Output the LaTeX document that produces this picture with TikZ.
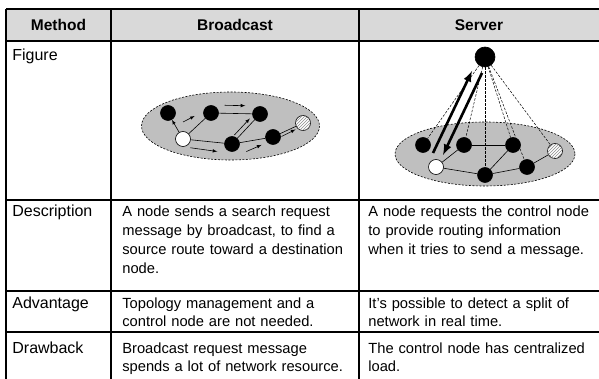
\documentclass[tikz,border=0pt]{standalone}
\usepackage{fontspec}
\setmainfont{Liberation Sans}
\usetikzlibrary{calc,patterns}
\tikzset{every picture/.style={line width=0.75pt}}

\begin{document}
\begin{tikzpicture}[x=1pt,y=1pt,yscale=-1,
    rule/.style={line width=1.2pt},
    head/.style={inner sep=0pt,font=\fontsize{15.5}{18}\selectfont\bfseries},
    lbl/.style={anchor=base west,inner sep=0pt,font=\fontsize{16}{19}\selectfont},
    txt/.style={anchor=base west,inner sep=0pt,text width=232pt,align=left,font=\fontsize{14.7}{18.8}\selectfont},
    area/.style={draw,dash pattern=on 2pt off 1.5pt,fill=black!25,line width=0.6pt},
    net/.style={circle,draw,fill=black,inner sep=0pt,minimum size=15pt,line width=0.6pt},
    src/.style={net,fill=white},
    dst/.style={net,fill=white,postaction={pattern=north east lines,pattern color=black!45}},
    link/.style={line width=0.6pt},
    msg/.style={line width=0.6pt,-latex},
    ctrl/.style={dash pattern=on 2.5pt off 1.5pt,line width=0.5pt},
    req/.style={line width=2.6pt,-latex}]
    \useasboundingbox (0,0) rectangle (599,379);
    % table
    \fill[black!15] (6,9) rectangle (599,41);
    \draw[rule] (6,9) -- (599,9);
    \draw[rule] (6,41) -- (599,41);
    \draw[rule] (6,200) -- (599,200);
    \draw[rule] (6,291) -- (599,291);
    \draw[rule] (6,332) -- (599,332);
    \draw[rule] (6,9) -- (6,379);
    \draw[rule] (111,9) -- (111,379);
    \draw[rule] (359,9) -- (359,379);
    \node[head] (hMethod) at (58.5,25) {Method};
    \node[head] (hBroad) at (235,25) {Broadcast};
    \node[head] (hServer) at (479,25) {Server};
    \node[lbl] (lFig) at (12,61) {Figure};
    \node[lbl] (lDesc) at (12,217) {Description};
    \node[lbl] (lAdv) at (12,308) {Advantage};
    \node[lbl] (lDraw) at (12,353) {Drawback};
    \node[txt] (bDesc) at (122,217) {A node sends a search request\\message by broadcast, to find a\\source route toward a destination\\node.};
    \node[txt] (sDesc) at (368,217) {A node requests the control node\\to provide routing information\\when it tries to send a message.};
    \node[txt] (bAdv) at (122,308) {Topology management and a\\control node are not needed.};
    \node[txt] (sAdv) at (368,308) {It's possible to detect a split of\\network in real time.};
    \node[txt] (bDraw) at (122,353) {Broadcast request message\\spends a lot of network resource.};
    \node[txt] (sDraw) at (368,353) {The control node has centralized\\load.};
    % broadcast
    \draw[area] (230.5,126) ellipse [x radius=89, y radius=34];
    \node[net] (bA) at (168,113) {};
    \node[net] (bB) at (211,113) {};
    \node[net] (bC) at (260,114) {};
    \node[src] (bW) at (183,139) {};
    \node[net] (bD) at (232,144) {};
    \node[net] (bE) at (273,137) {};
    \node[dst] (bH) at (303,123) {};
    \draw[msg] (bW) -- (bA);
    \draw[link] (bW) -- (bB);
    \draw[link] (bB) -- (bC);
    \draw[link] (bW) -- (bD);
    \draw[link] (bD) -- (bC);
    \draw[link] (bD) -- (bE);
    \draw[link] (bE) -- (bH);
    \draw[msg] ($(bA)!0.35!(bB)+(0,9)$) -- ($(bA)!0.62!(bB)+(0,3)$);
    \draw[msg] ($(bB)!0.28!(bC)+(0,-8)$) -- ($(bB)!0.7!(bC)+(0,-8)$);
    \draw[msg] ($(bW)!0.15!(bD)+(0,8)$) -- ($(bW)!0.7!(bD)+(0,9)$);
    \draw[msg] ($(bD)!0.3!(bC)+(-6,0)$) -- ($(bD)!0.85!(bC)+(-6,0)$);
    \draw[msg] ($(bD)!0.35!(bE)+(0,10)$) -- ($(bD)!0.72!(bE)+(0,6)$);
    \draw[msg] ($(bE)!0.25!(bH)+(1,3)$) -- ($(bE)!0.75!(bH)+(0,3)$);
    % server
    \draw[area] (485,154) ellipse [x radius=90, y radius=32];
    \node[net,minimum size=20pt] (sT) at (485,57) {};
    \node[net] (sA) at (423,145) {};
    \node[net] (sB) at (464,145) {};
    \node[net] (sC) at (513,145) {};
    \node[src] (sW) at (436,167) {};
    \node[net] (sD) at (485,175) {};
    \node[net] (sE) at (527,167) {};
    \node[dst] (sH) at (555,151) {};
    \foreach \n in {sA,sB,sC,sD,sE,sH}
        \draw[ctrl] (sT) -- (\n);
    \draw[link] (sW) -- (sB);
    \draw[link] (sB) -- (sC);
    \draw[link] (sW) -- (sD);
    \draw[link] (sD) -- (sC);
    \draw[link] (sD) -- (sE);
    \draw[link] (sE) -- (sH);
    \draw[req] ($(sW)+(-3,-14)$) -- ($(sT)+(-13,14)$);
    \draw[req] ($(sT)+(-3,16)$) -- ($(sW)+(7,-12)$);
\end{tikzpicture}
\end{document}
